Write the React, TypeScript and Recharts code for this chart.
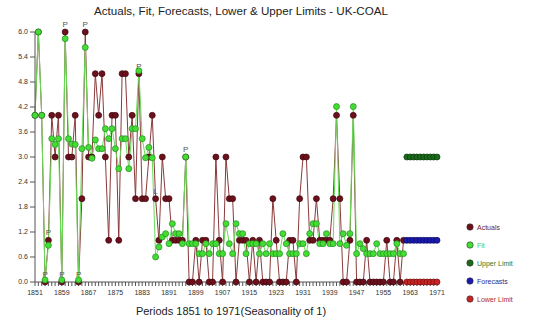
import React from 'react';
import { ComposedChart, Line, XAxis, YAxis, LabelList } from 'recharts';

const years: number[] = [];
for (let y = 1851; y <= 1971; y++) years.push(y);

const actuals = [
  4, 6, 4, 0, 1, 4, 3, 4, 0, 6,
  3, 3, 4, 0, 2, 6, 3, 3, 5, 4,
  5, 3, 1, 4, 4, 1, 5, 5, 3, 4,
  2, 5, 2, 2, 3, 4, 2, 1, 3, 2,
  2, 1, 1, 1, 1, 3, 0, 0, 1, 0,
  1, 1, 0, 0, 3, 1, 0, 3, 2, 2,
  0, 1, 1, 1, 0, 1, 0, 1, 0, 0,
  0, 2, 1, 0, 0, 0, 1, 1, 0, 2,
  3, 3, 1, 1, 2, 1, 1, 1, 1, 2,
  4, 2, 0, 0, 1, 4, 0, 0, 0, 1,
  0, 0, 0, 0, 0, 1, 0, 0, 1, 0,
  1,
];

const fit = [
  4.0, 6.0, 4.0, 0.05, 0.88, 3.44, 3.3, 3.44, 0.05, 5.84,
  3.44, 3.31, 3.3, 0.05, 3.2, 5.63, 3.23, 2.97, 3.41, 3.2,
  3.2, 3.68, 3.44, 3.68, 3.2, 2.72, 3.44, 3.44, 2.72, 3.68,
  3.68, 5.07, 3.44, 2.98, 3.23, 2.98, 0.6, 0.84, 1.08, 1.16,
  0.92, 1.4, 1.16, 1.16, 0.92, 3.0, 0.92, 0.92, 0.92, 0.68,
  0.68, 0.92, 0.68, 0.92, 0.92, 0.68, 0.68, 1.4, 0.92, 0.68,
  1.4, 1.16, 1.16, 0.68, 0.92, 0.92, 0.92, 0.68, 0.92, 0.68,
  0.92, 0.68, 0.68, 0.68, 1.16, 0.92, 0.68, 0.68, 0.68, 0.92,
  0.92, 0.68, 1.16, 1.4, 1.4, 0.92, 0.92, 1.16, 0.92, 0.92,
  4.21, 0.92, 1.16, 0.88, 1.16, 4.21, 0.68, 0.92, 0.8, 0.68,
  0.68, 0.68, 0.92, 0.68, 0.68, 0.68, 0.68, 0.68, 0.92, 0.68,
  0.68,
];

const forecastYears = [1962, 1963, 1964, 1965, 1966, 1967, 1968, 1969, 1970, 1971];
const forecasts = [1, 1, 1, 1, 1, 1, 1, 1, 1, 1];
const upperLimit = [3, 3, 3, 3, 3, 3, 3, 3, 3, 3];
const lowerLimit = [0, 0, 0, 0, 0, 0, 0, 0, 0, 0];

const pulseYears = [1854, 1855, 1859, 1860, 1864, 1866, 1882, 1896];
const levelShiftYears = [1887];

const xLabelYears = [1851, 1859, 1867, 1875, 1883, 1891, 1899, 1907, 1915, 1923, 1931, 1939, 1947, 1955, 1963, 1971];
const yTicks = [0, 0.6, 1.2, 1.8, 2.4, 3.0, 3.6, 4.2, 4.8, 5.4, 6.0];

const C_ACT = '#6e0f1c';
const C_FIT = '#44dd33';
const C_UP = '#1b6b1b';
const C_FC = '#1a1ab0';
const C_LOW = '#c82424';

const data = years.map((yr, i) => {
  const fi = forecastYears.indexOf(yr);
  let flag: string | undefined = undefined;
  if (pulseYears.includes(yr)) flag = 'P';
  if (levelShiftYears.includes(yr)) flag = 'L';
  return {
    year: yr,
    actual: i < actuals.length ? actuals[i] : null,
    fit: i < fit.length ? fit[i] : null,
    upper: fi >= 0 ? upperLimit[fi] : null,
    forecast: fi >= 0 ? forecasts[fi] : null,
    lower: fi >= 0 ? lowerLimit[fi] : null,
    flag,
  };
});

const XTick = (props: any) => {
  const { x, y, payload } = props;
  if (!xLabelYears.includes(payload.value)) return <g />;
  return (
    <text x={x} y={y} dy={7} textAnchor="middle" fontSize={7} fill="#333">
      {payload.value}
    </text>
  );
};

const legendItems = [
  { name: 'Actuals', color: C_ACT, text: '#6e1a2a' },
  { name: 'Fit', color: C_FIT, text: '#4ccc3c' },
  { name: 'Upper Limit', color: C_UP, text: '#2a7a2a' },
  { name: 'Forecasts', color: C_FC, text: '#2a2a90' },
  { name: 'Lower Limit', color: C_LOW, text: '#b02a2a' },
];

const dotStyle = (fill: string, stroke: string) => ({ r: 3, fill, stroke, strokeWidth: 0.7 });

export default function App() {
  return (
    <div
      style={{
        position: 'absolute',
        left: 0,
        top: 0,
        width: 540,
        height: 323,
        background: '#fff',
        fontFamily: 'Arial, "Liberation Sans", sans-serif',
      }}
    >
      <div
        style={{
          position: 'absolute',
          left: 0,
          top: 3,
          width: 482,
          textAlign: 'center',
          fontSize: 11.6,
          lineHeight: '15px',
          color: '#222',
        }}
      >
        Actuals, Fit, Forecasts, Lower &amp; Upper Limits - UK-COAL
      </div>
      <ComposedChart
        width={540}
        height={323}
        data={data}
        margin={{ top: 32, right: 103, left: 0, bottom: 0 }}
      >
        <XAxis
          dataKey="year"
          type="number"
          domain={[1851, 1971]}
          ticks={years}
          interval={0}
          tickSize={4}
          tick={<XTick />}
          height={41}
          stroke="#555"
          label={{
            value: 'Periods 1851 to 1971(Seasonality of 1)',
            position: 'insideBottom',
            offset: 8,
            dx: -5,
            style: { fontSize: 11, fill: '#222' },
          }}
        />
        <YAxis
          type="number"
          domain={[0, 6]}
          ticks={yTicks}
          interval={0}
          width={35}
          tickSize={5}
          tickMargin={2}
          stroke="#555"
          tick={{ fontSize: 7, fill: '#333' }}
          tickFormatter={(v: number) => v.toFixed(1)}
        />
        <Line
          dataKey="actual"
          name="Actuals"
          stroke="#8a3a3a"
          strokeWidth={1}
          dot={dotStyle(C_ACT, '#3a0a10')}
          isAnimationActive={false}
          connectNulls={false}
        >
          <LabelList dataKey="flag" position="top" offset={5} style={{ fontSize: 8, fill: '#555' }} />
        </Line>
        <Line
          dataKey="fit"
          name="Fit"
          stroke="#66dd55"
          strokeWidth={1}
          dot={dotStyle(C_FIT, '#228822')}
          isAnimationActive={false}
          connectNulls={false}
        />
        <Line
          dataKey="upper"
          name="Upper Limit"
          stroke={C_UP}
          strokeWidth={1}
          dot={dotStyle(C_UP, '#0a3a0a')}
          isAnimationActive={false}
        />
        <Line
          dataKey="forecast"
          name="Forecasts"
          stroke={C_FC}
          strokeWidth={1}
          dot={dotStyle(C_FC, '#0a0a60')}
          isAnimationActive={false}
        />
        <Line
          dataKey="lower"
          name="Lower Limit"
          stroke={C_LOW}
          strokeWidth={1}
          dot={dotStyle(C_LOW, '#701010')}
          isAnimationActive={false}
        />
      </ComposedChart>
      <div style={{ position: 'absolute', left: 466, top: 218 }}>
        {legendItems.map((it) => (
          <div key={it.name} style={{ height: 18, display: 'flex', alignItems: 'center' }}>
            <svg width={8} height={8} style={{ marginRight: 3 }}>
              <circle cx={4} cy={4} r={3.2} fill={it.color} stroke="#333" strokeWidth={0.6} />
            </svg>
            <span style={{ fontSize: 7, color: it.text }}>{it.name}</span>
          </div>
        ))}
      </div>
    </div>
  );
}
